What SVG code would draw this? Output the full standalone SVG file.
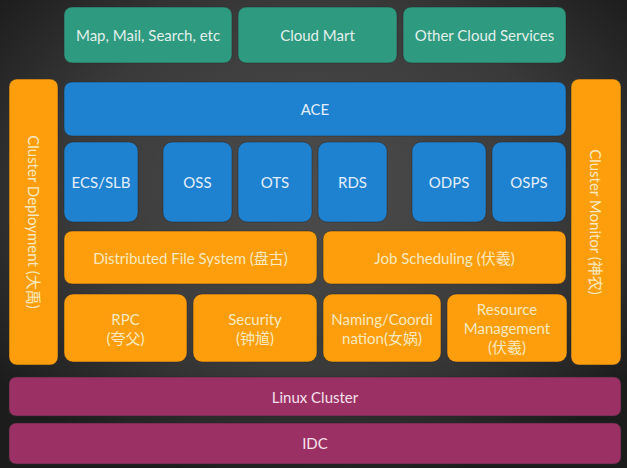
<svg xmlns="http://www.w3.org/2000/svg" width="627" height="468" viewBox="0 0 627 468">
<defs>
<radialGradient id="bg" cx="50%" cy="40%" r="65%">
<stop offset="0" stop-color="#4d4d4d"/>
<stop offset="0.6" stop-color="#3a3a3a"/>
<stop offset="1" stop-color="#1c1c1c"/>
</radialGradient>
<style>
rect.b{stroke:#2a2a2a;stroke-width:1;stroke-opacity:0.5}
.g{fill:#2e9a80}
.bl{fill:#1f82d0}
.o{fill:#ff9e0d}
.p{fill:#9b3064}
text{font-family:Lato,"Noto Sans CJK SC",sans-serif;font-size:15px;text-anchor:middle;dominant-baseline:central}
.tg{fill:#e2f0eb}
.tb{fill:#e2eefa}
.to{fill:#fde9bd}
.tp{fill:#f6e0ec}
</style>
</defs>
<rect x="0" y="0" width="627" height="468" fill="url(#bg)"/>
<g id="map"><rect class="b g" x="64" y="7" width="168" height="56" rx="8"/><text class="tg" x="148" y="35">Map, Mail, Search, etc</text></g>
<g id="cloudmart"><rect class="b g" x="238" y="7" width="159" height="56" rx="8"/><text class="tg" x="317.5" y="35">Cloud Mart</text></g>
<g id="othercloud"><rect class="b g" x="403" y="7" width="163" height="56" rx="8"/><text class="tg" x="484.5" y="35">Other Cloud Services</text></g>
<g id="deploy"><rect class="b o" x="9" y="79" width="49" height="286" rx="8"/><text class="to" transform="translate(33.5 222) rotate(90)">Cluster Deployment (大禹)</text></g>
<g id="monitor"><rect class="b o" x="571" y="79" width="50" height="286" rx="8"/><text class="to" transform="translate(596 222) rotate(90)">Cluster Monitor (神农)</text></g>
<g id="ace"><rect class="b bl" x="64" y="82" width="502" height="54" rx="8"/><text class="tb" x="315" y="109">ACE</text></g>
<g id="ecs"><rect class="b bl" x="64" y="142" width="74" height="80" rx="9"/><text class="tb" x="101" y="182">ECS/SLB</text></g>
<g id="oss"><rect class="b bl" x="163" y="142" width="69" height="80" rx="9"/><text class="tb" x="197.5" y="182">OSS</text></g>
<g id="ots"><rect class="b bl" x="238" y="142" width="74" height="80" rx="9"/><text class="tb" x="275" y="182">OTS</text></g>
<g id="rds"><rect class="b bl" x="318" y="142" width="69" height="80" rx="9"/><text class="tb" x="352.5" y="182">RDS</text></g>
<g id="odps"><rect class="b bl" x="412" y="142" width="74" height="80" rx="9"/><text class="tb" x="449" y="182">ODPS</text></g>
<g id="osps"><rect class="b bl" x="492" y="142" width="74" height="80" rx="9"/><text class="tb" x="529" y="182">OSPS</text></g>
<g id="dfs"><rect class="b o" x="64" y="231" width="253" height="53" rx="8"/><text class="to" x="190.5" y="258">Distributed File System (盘古)</text></g>
<g id="job"><rect class="b o" x="323" y="231" width="243" height="53" rx="8"/><text class="to" x="444.5" y="258">Job Scheduling (伏羲)</text></g>
<g id="rpc"><rect class="b o" x="64" y="294" width="123" height="68" rx="9"/><text class="to" x="125.5" y="319">RPC</text><text class="to" x="125.5" y="338">(夸父)</text></g>
<g id="security"><rect class="b o" x="193" y="294" width="124" height="68" rx="9"/><text class="to" x="255" y="319">Security</text><text class="to" x="255" y="338">(钟馗)</text></g>
<g id="naming"><rect class="b o" x="323" y="294" width="118" height="68" rx="9"/><text class="to" x="382" y="319">Naming/Coordi</text><text class="to" x="382" y="338">nation(女娲)</text></g>
<g id="resource"><rect class="b o" x="447" y="294" width="120" height="68" rx="9"/><text class="to" x="507" y="309">Resource</text><text class="to" x="507" y="328">Management</text><text class="to" x="507" y="347">(伏羲)</text></g>
<g id="linux"><rect class="b p" x="9" y="377" width="612" height="39" rx="7"/><text class="tp" x="315" y="397">Linux Cluster</text></g>
<g id="idc"><rect class="b p" x="9" y="423" width="612" height="41" rx="7"/><text class="tp" x="315" y="443">IDC</text></g>
<g id="connectors"></g>
</svg>
